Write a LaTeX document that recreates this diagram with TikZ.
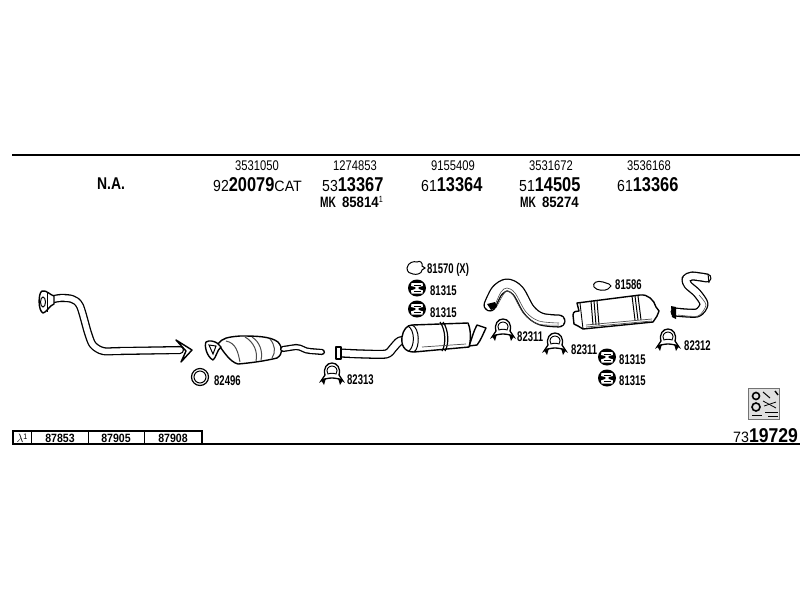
\documentclass[tikz,border=0pt]{standalone}
\usepackage{fontspec}
\setmainfont{Liberation Sans}
\newfontfamily\fa[FakeStretch=0.8]{Liberation Sans}
\newfontfamily\fb[FakeStretch=0.68]{Liberation Sans}
\newfontfamily\fc[FakeStretch=0.88]{Liberation Sans}
\newfontfamily\fe[FakeStretch=0.82]{Liberation Sans}
\newfontfamily\fd[FakeStretch=0.95]{Liberation Sans}
\newcommand{\fs}[1]{\fontsize{#1}{#1}\selectfont}
\tikzset{x=1pt,y=-1pt,
 code/.style={inner sep=0pt,font=\fa\fs{14}},
 part/.style={inner sep=0pt,anchor=west,font=\fb\bfseries\fs{14}},
 order/.style={inner sep=0pt,anchor=base west},
 cell/.style={inner sep=0pt,font=\fc\bfseries\fs{12}},
 pipe/.style={draw=black,double=white,line width=1.3pt,double distance=#1,line join=round,line cap=round},
 pipe/.default=4pt,
 outl/.style={draw=black,line width=1.4pt,fill=white,line join=round},
 thinl/.style={draw=black!70,line width=.7pt},
 pics/clamp/.style={code={
   \draw[line width=1.3pt,fill=white] (-11,6) -- (-7,0) .. controls (-9,-7) and (-5,-12) .. (0,-12) .. controls (5,-12) and (9,-7) .. (7,0) -- (11,6) .. controls (5,2) and (-5,2) .. (-11,6) -- cycle;
   \draw[line width=.9pt] (-4,-1) .. controls (-7,-6) and (-3,-9) .. (0,-9) .. controls (3,-9) and (7,-6) .. (4,-1) .. controls (2,-2) and (-2,-2) .. (-4,-1) -- cycle;
   \fill (-11,5) -- (-6,3) -- (-8,10) -- cycle;
   \fill (11,5) -- (6,3) -- (8,10) -- cycle;
 }},
 pics/hanger/.style={code={
   \fill[black] (0,0) ellipse [x radius=9,y radius=8.5];
   \fill[white] (-5.5,-5) -- (5.5,-5) -- (6,-2) -- (1.6,-1) -- (1.6,1) -- (6,2.4) -- (5.5,5.5) -- (-5.5,5.5) -- (-6,2.4) -- (-1.6,1) -- (-1.6,-1) -- (-6,-2) -- cycle;
   \fill[black] (-3.5,-3.4) rectangle (3.5,-2.6);
   \fill[black] (-3.5,3.2) rectangle (3.5,4);
 }},
}
\begin{document}
\begin{tikzpicture}
\path[use as bounding box,fill=white] (0,0) rectangle (800,600);
% rules
\coordinate (topL) at (12,155); \coordinate (topR) at (800,155);
\coordinate (botL) at (13,444); \coordinate (botR) at (800,444);
\draw[line width=1.8pt] (topL) -- (topR);
\draw[line width=1.8pt] (botL) -- (botR);
% table
\draw[line width=1.2pt] (13,431) rectangle (202,444);
\foreach \x in {31,88,144} \draw[line width=1pt] (\x,431) -- (\x,444);
\node[inner sep=0pt,font=\fc\fs{12}] (tl) at (22,438) {$\lambda$\raisebox{2.5pt}{\fs{8}1}};
\node[cell] (t1) at (60,438) {87853};
\node[cell] (t2) at (116,438) {87905};
\node[cell] (t3) at (173,438) {87908};
% header codes
\node[inner sep=0pt,font=\fe\bfseries\fs{17}] (na) at (111,184) {N.A.};
\node[code] (c1) at (257,166) {3531050};
\node[code] (c2) at (355,166) {1274853};
\node[code] (c3) at (453,166) {9155409};
\node[code] (c4) at (551,166) {3531672};
\node[code] (c5) at (649,166) {3536168};
\newcommand{\ordno}[2]{{\fc\fs{16}#1}{\fe\bfseries\fs{20}#2}}
\node[order] (o1) at (213,191) {\ordno{92}{20079}{\fd\fs{15}CAT}};
\node[order] (o2) at (322,191) {\ordno{53}{13367}};
\node[order] (o3) at (421,191) {\ordno{61}{13364}};
\node[order] (o4) at (519,191) {\ordno{51}{14505}};
\node[order] (o5) at (617,191) {\ordno{61}{13366}};
\node[order,font=\fc\bfseries\fs{15}] (m1) at (320,207) {{\fb MK}\hspace{6pt}85814{\fa\mdseries\raisebox{5pt}{\fs{9}1}}};
\node[order,font=\fc\bfseries\fs{15}] (m2) at (520,207) {{\fb MK}\hspace{6pt}85274};
% front pipe
\draw[pipe=5.5pt] plot[smooth,tension=.5] coordinates {(50,300) (60,298) (72,299) (80,306) (88,333) (93,345) (103,351) (120,351) (180,350)};
\draw[outl] (42,291) .. controls (38,293) and (38,311) .. (43,313) .. controls (46,313) and (50,305) .. (54,304) -- (54,296) .. controls (50,295) and (47,290) .. (42,291) -- cycle;
\draw[line width=1pt] (43,302) ellipse [x radius=2.5,y radius=5];
\draw[line width=1pt] (47,293) -- (47,312);
\draw[outl] (176,340) -- (192,350) -- (181,362) -- (186,351) -- cycle;
% catalyst
\draw[outl] (218,344) .. controls (222,338) and (228,337) .. (240,336) .. controls (255,336) and (270,336) .. (278,342) .. controls (283,348) and (283,354) .. (277,358) .. controls (265,361) and (250,363) .. (238,364) .. controls (230,362) and (224,352) .. (218,344) -- cycle;
\draw[thinl,line width=1pt] (226,341) .. controls (236,343) and (238,352) .. (240,362);
\draw[thinl,line width=1pt] (245,337) .. controls (254,342) and (258,352) .. (256,361);
\draw[thinl,line width=1pt] (252,337) .. controls (260,342) and (263,352) .. (261,360);
\draw[thinl,line width=1pt] (270,339) .. controls (275,345) and (276,352) .. (272,358);
\draw[outl] (206,342) .. controls (204,346) and (207,357) .. (213,360) .. controls (216,358) and (217,350) .. (221,347) -- (217,343) .. controls (214,341) and (209,340) .. (206,342) -- cycle;
\draw[line width=1pt] (209,345) -- (213,354) -- (216,346) -- cycle;
\draw[pipe=3.5pt] (283,349) -- (296,347) .. controls (302,347) and (304,351) .. (310,351) -- (322,352);
% ring 82496
\draw[line width=1.2pt] (200,377) circle [radius=8.5];
\draw[line width=1pt] (200,377) circle [radius=6];
\node[part] (l1) at (214,381) {82496};
% clamps
\pic at (332,375) {clamp};
\node[part] (l2) at (347,380) {82313};
\pic at (503,331) {clamp};
\node[part] (l3) at (517,337) {82311};
\pic at (555,345) {clamp};
\node[part] (l4) at (571,350) {82311};
\pic at (668,341) {clamp};
\node[part] (l5) at (684,346) {82312};
% centre gasket and hangers
\draw[line width=1pt] (407,268) .. controls (408,262) and (414,261) .. (417,262) .. controls (420,260) and (423,263) .. (422,266) -- (425,268) -- (422,270) .. controls (422,274) and (416,275) .. (413,274) .. controls (410,274) and (407,272) .. (407,268) -- cycle;
\node[part] (l6) at (427,270) {81570 (X)};
\pic at (417,288) {hanger};
\node[part] (l7) at (430,291) {81315};
\pic at (417,309) {hanger};
\node[part] (l8) at (430,313) {81315};
% centre muffler
\draw[pipe=6.5pt] plot[smooth,tension=.5] coordinates {(340,353) (363,354) (386,354) (393,348) (400,341) (412,340)};
\draw[outl,line width=1.2pt] (336,347) rectangle (341,359);
\draw[outl] (469,346) .. controls (472,338) and (474,330) .. (477,325) -- (486,328) .. controls (483,334) and (481,340) .. (477,345) -- cycle;
\draw[outl] (412,325) -- (468,323) .. controls (471,330) and (471,340) .. (469,347) -- (414,352) .. controls (404,352) and (401,345) .. (402,337) .. controls (403,330) and (407,325) .. (412,325) -- cycle;
\draw[line width=1pt] (412,325) .. controls (420,328) and (420,348) .. (414,352);
\draw[line width=1pt] (408,326) .. controls (415,330) and (415,346) .. (409,351);
\draw[line width=1.2pt] (440,322) .. controls (446,330) and (446,345) .. (442,351);
\draw[line width=1.2pt] (443,322) .. controls (449,330) and (449,345) .. (445,351);
\draw[thinl] (422,347) -- (466,344);
% middle pipe
\draw[pipe=10.5pt] plot[smooth,tension=.55] coordinates {(490,305) (497,291) (507,285) (518,291) (529,310) (541,319) (559,321)};
\draw[thinl,line width=.6pt] plot[smooth,tension=.55] coordinates {(495,305) (501,292) (507,288) (515,293) (526,312) (539,321) (559,323)};
\draw[thinl,line width=.6pt] plot[smooth,tension=.55] coordinates {(497,306) (503,295) (507,291) (513,295) (524,314) (538,324) (559,325)};
\fill (487,304) -- (495,302) -- (497,307) -- (491,310) -- cycle;
% rear muffler
\draw[line width=1pt] (603,282) .. controls (597,280) and (592,283) .. (594,287) .. controls (597,291) and (605,291) .. (608,289) -- (611,286) -- (609,284) -- cycle;
\node[part] (l9) at (615,285) {81586};
\draw[outl] (573,315) .. controls (573,311) and (577,311) .. (579,311) -- (577,303) -- (640,295) .. controls (648,294) and (654,300) .. (656,307) -- (659,311) -- (657,316) -- (653,322) -- (583,329) -- (578,326) -- (574,324) -- cycle;
\draw[line width=.9pt] (583,329) -- (580,303);
\foreach \a in {591,594,597} \draw[line width=1pt] (\a,301) -- (\a+2,325);
\foreach \a in {632,635,638} \draw[line width=1pt] (\a,296) -- (\a+3,320);
\draw[thinl] (586,325) -- (652,319);
\draw[thinl] (586,327) -- (652,321);
% tail pipe
\draw[pipe=6.5pt] plot[smooth,tension=.45] coordinates {(675,312) (697,313) (704,304) (697,293) (688,285) (686,279) (692,276) (707,278)};
\draw[thinl,line width=.6pt] plot[smooth,tension=.45] coordinates {(678,315) (698,316) (706,305) (699,295)};
\fill (671,306) -- (676,307) -- (676,319) -- (672,317) -- cycle;
\draw[line width=1pt] (708,274) -- (709,283);
% hangers rear
\pic at (607,357) {hanger};
\node[part] (l10) at (619,360) {81315};
\pic at (607,378) {hanger};
\node[part] (l11) at (619,381) {81315};
% icon
\draw[draw=black!55,fill=black!12,line width=.7pt] (748,388) rectangle (779,419);
\draw[line width=1.6pt] (756,396) circle [radius=3.5];
\draw[line width=1.6pt] (756,407) circle [radius=4];
\draw[line width=1pt] (763,392) -- (770,398);
\draw[line width=1.4pt] (775,391) -- (778,395);
\draw[line width=.8pt] (763,401) -- (776,408);
\draw[line width=.8pt] (764,406) -- (776,402);
\draw[line width=.9pt] (765,412) -- (778,412);
\draw[line width=.9pt] (768,416) -- (778,416);
\draw[line width=.9pt] (752,415) -- (762,415);
% catalogue number
\node[order] (cat) at (733,442) {{\fd\fs{15}73}{\fc\bfseries\fs{20}19729}};
\end{tikzpicture}
\end{document}
